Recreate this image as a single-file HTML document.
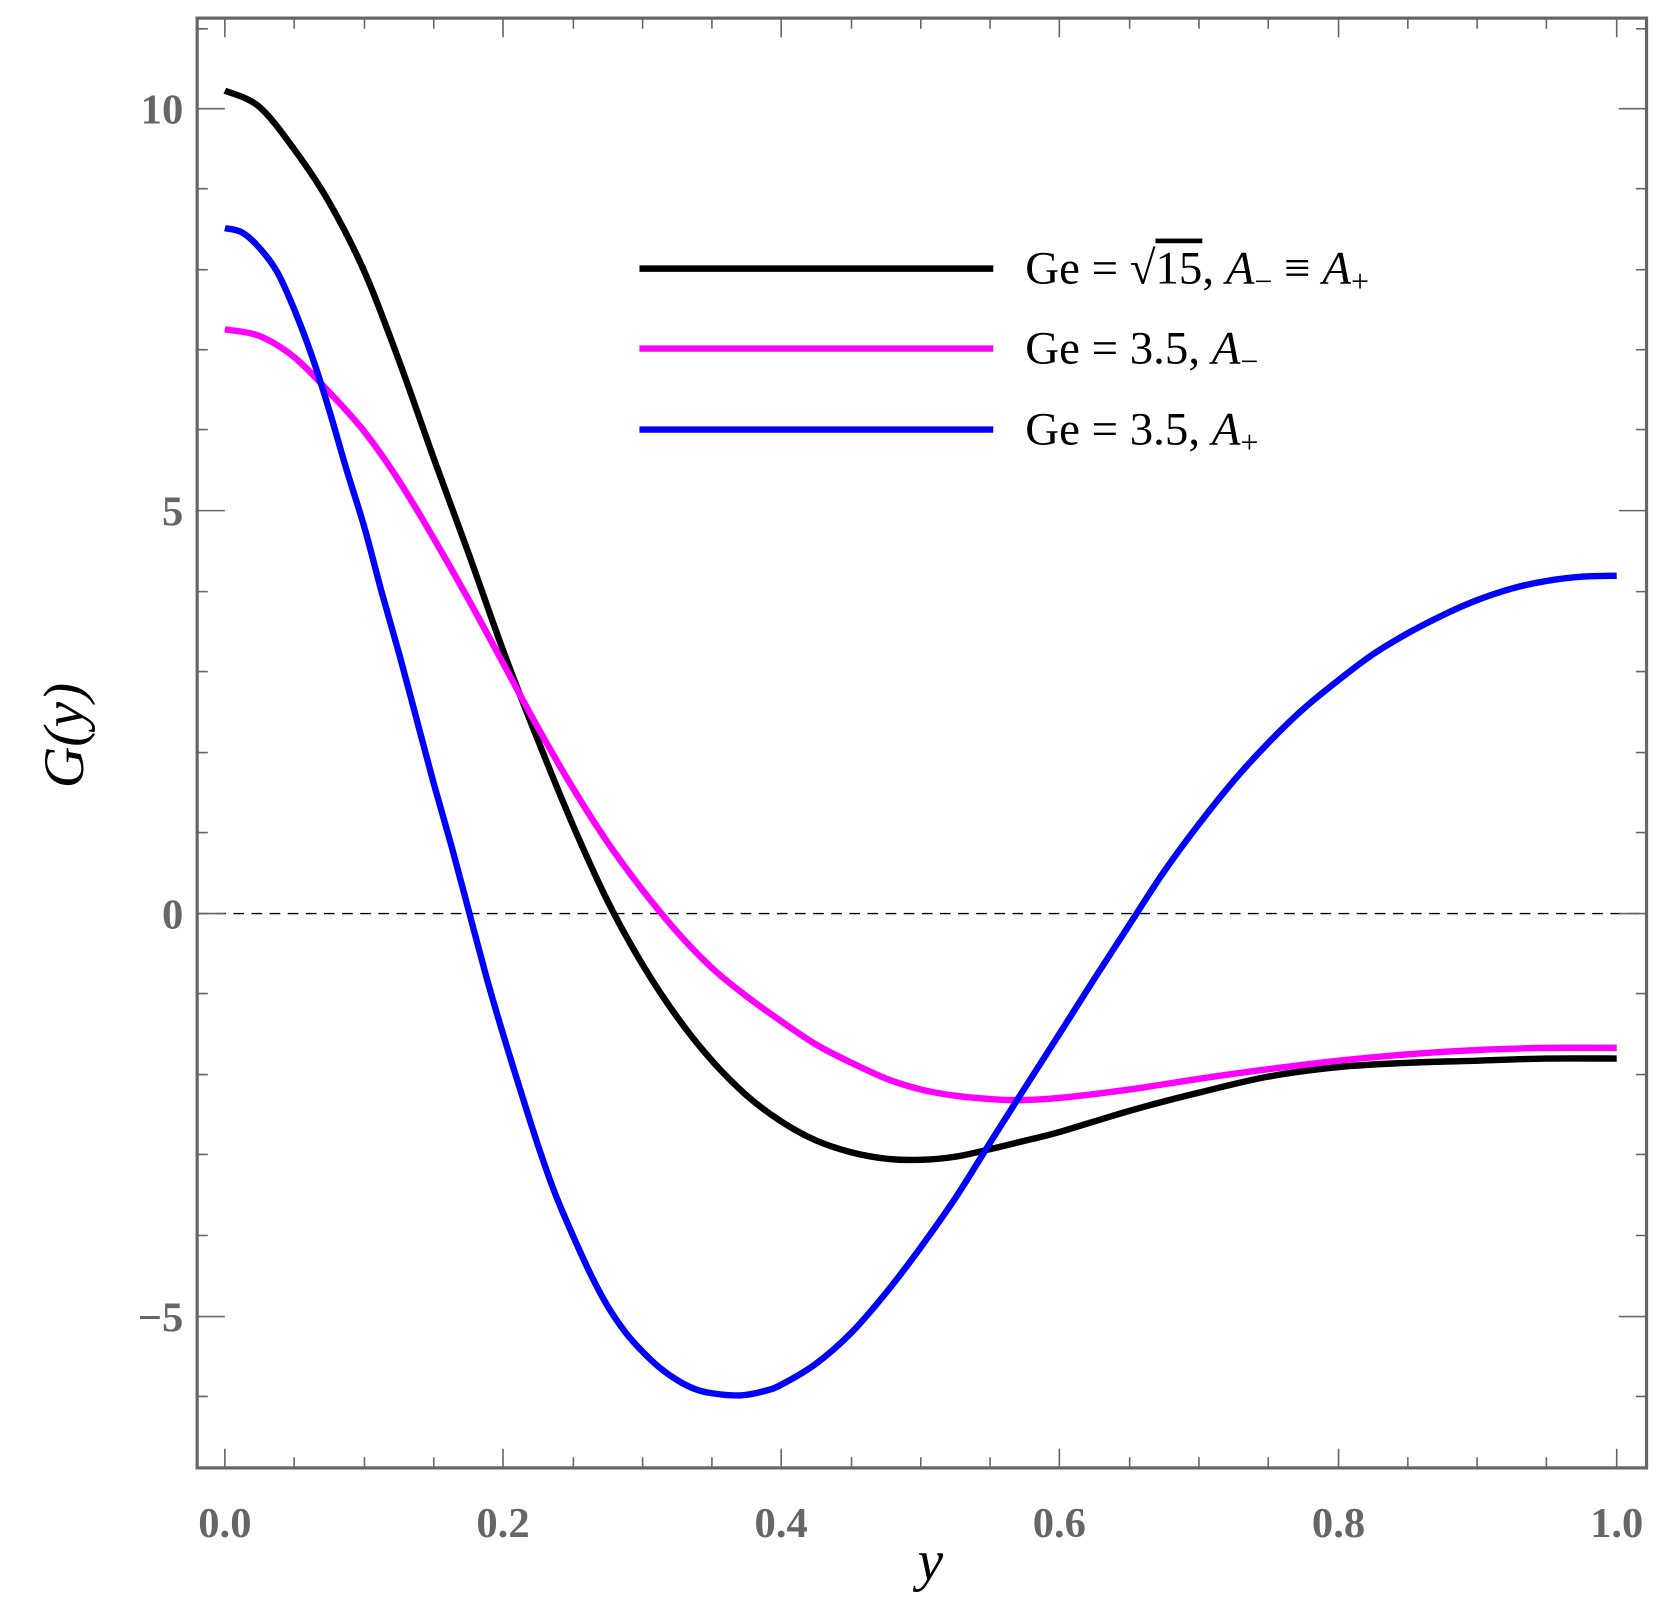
<!DOCTYPE html>
<html><head><meta charset="utf-8"><style>html,body{margin:0;padding:0;background:#fff}svg{display:block}</style></head><body>
<svg width="1670" height="1615" viewBox="0 0 1567 1515" preserveAspectRatio="none" xmlns="http://www.w3.org/2000/svg">
<rect x="185" y="17" width="1360" height="1360" fill="none" stroke="#666" stroke-width="3"/>
<line x1="185" y1="857" x2="1545" y2="857" stroke="#000" stroke-width="1.2" stroke-dasharray="10,7"/>
<g stroke="#666" stroke-width="1.5">
<path d="M211 1377v-18M472 1377v-18M733 1377v-18M994 1377v-18M1256 1377v-18M1517 1377v-18M211 17v18M472 17v18M733 17v18M994 17v18M1256 17v18M1517 17v18"/>
<path d="M276 1377v-10M342 1377v-10M407 1377v-10M538 1377v-10M603 1377v-10M668 1377v-10M799 1377v-10M864 1377v-10M929 1377v-10M1060 1377v-10M1125 1377v-10M1190 1377v-10M1321 1377v-10M1386 1377v-10M1451 1377v-10M276 17v10M342 17v10M407 17v10M538 17v10M603 17v10M668 17v10M799 17v10M864 17v10M929 17v10M1060 17v10M1125 17v10M1190 17v10M1321 17v10M1386 17v10M1451 17v10"/>
<path d="M185 102h26M185 479h26M185 857h26M185 1235h26M1545 102h-26M1545 479h-26M1545 857h-26M1545 1235h-26"/>
<path d="M185 27h10M185 177h10M185 253h10M185 328h10M185 403h10M185 555h10M185 630h10M185 706h10M185 781h10M185 932h10M185 1008h10M185 1083h10M185 1159h10M185 1310h10M1545 27h-10M1545 177h-10M1545 253h-10M1545 328h-10M1545 403h-10M1545 555h-10M1545 630h-10M1545 706h-10M1545 781h-10M1545 932h-10M1545 1008h-10M1545 1083h-10M1545 1159h-10M1545 1310h-10"/>
</g>
<g font-family="Liberation Serif, serif" font-weight="bold" font-size="40" fill="#666">
<text x="172" y="116" text-anchor="end">10</text>
<text x="172" y="493" text-anchor="end">5</text>
<text x="172" y="871" text-anchor="end">0</text>
<text x="172" y="1249" text-anchor="end">−5</text>
<g text-anchor="middle"><text x="211" y="1442">0.0</text><text x="472" y="1442">0.2</text><text x="733" y="1442">0.4</text><text x="994" y="1442">0.6</text><text x="1256" y="1442">0.8</text><text x="1517" y="1442">1.0</text></g>
</g>
<text x="873" y="1482" font-family="Liberation Serif, serif" font-style="italic" font-size="54" text-anchor="middle">y</text>
<text transform="translate(78,690) rotate(-90)" font-family="Liberation Serif, serif" font-style="italic" font-size="54" text-anchor="middle">G(y)</text>
<g fill="none" stroke-width="6" stroke-linejoin="round" stroke-linecap="butt">
<polyline class="sm" stroke="#000" points="211,85 243,100 276,140 309,190 342,255 375,340 407,430 440,520 472,610 505,695 538,775 570,845 603,905 636,955 668,995 701,1028 733,1052 766,1070 799,1081 832,1087 864,1088 897,1085 929,1078 962,1070 994,1062 1060,1042 1125,1025 1190,1010 1256,1001 1321,997 1386,995 1451,993 1517,993"/>
<polyline class="sm" stroke="#f0f" points="211,309 243,315 276,335 309,368 342,405 375,452 407,505 440,563 472,622 505,683 538,740 570,790 603,835 636,875 668,908 701,935 733,958 766,980 799,997 832,1012 864,1022 897,1028 929,1031 957,1032 994,1030 1060,1022 1125,1012 1190,1003 1256,995 1321,989 1386,985 1451,983 1517,983"/>
<polyline class="sm" stroke="#00f" points="211,214 227,218 243,232 260,255 276,290 293,335 309,385 325,440 342,495 358,555 375,615 391,675 407,735 424,795 440,855 456,915 472,970 489,1025 505,1075 521,1120 538,1160 554,1195 570,1225 587,1250 603,1268 619,1283 636,1295 652,1303 668,1307 694,1309 717,1305 733,1299 766,1279 799,1250 832,1212 864,1170 897,1123 929,1072 962,1020 994,970 1027,918 1060,867 1092,818 1125,773 1158,732 1190,697 1223,665 1256,638 1288,614 1321,594 1354,577 1386,563 1419,552 1451,545 1484,541 1517,540"/>
</g>
<g stroke-width="6">
<line x1="600" y1="252" x2="932" y2="252" stroke="#000"/>
<line x1="600" y1="327" x2="932" y2="327" stroke="#f0f"/>
<line x1="600" y1="403" x2="932" y2="403" stroke="#00f"/>
</g>
<g font-family="Liberation Serif, serif" font-size="44" fill="#000">
<text x="962" y="266">Ge = √<tspan text-decoration="overline">15</tspan>,   <tspan font-style="italic">A</tspan><tspan font-size="30" dy="8">−</tspan><tspan dy="-8">  ≡  </tspan><tspan font-style="italic">A</tspan><tspan font-size="30" dy="8">+</tspan></text>
<text x="962" y="341">Ge = 3.5,   <tspan font-style="italic">A</tspan><tspan font-size="30" dy="8">−</tspan></text>
<text x="962" y="417">Ge = 3.5,   <tspan font-style="italic">A</tspan><tspan font-size="30" dy="8">+</tspan></text>
</g>
</svg>
<script>
document.querySelectorAll('polyline.sm').forEach(function(pl){
  var p=pl.getAttribute('points').trim().split(/\s+/).map(function(s){return s.split(',').map(Number);});
  var d='M'+p[0][0]+' '+p[0][1];
  for(var i=0;i<p.length-1;i++){
    var p0=p[i-1]||p[i],p1=p[i],p2=p[i+1],p3=p[i+2]||p2;
    var c1x=p1[0]+(p2[0]-p0[0])/6,c1y=p1[1]+(p2[1]-p0[1])/6;
    var c2x=p2[0]-(p3[0]-p1[0])/6,c2y=p2[1]-(p3[1]-p1[1])/6;
    d+=' C'+c1x.toFixed(1)+' '+c1y.toFixed(1)+' '+c2x.toFixed(1)+' '+c2y.toFixed(1)+' '+p2[0]+' '+p2[1];
  }
  var path=document.createElementNS('http://www.w3.org/2000/svg','path');
  path.setAttribute('d',d);path.setAttribute('stroke',pl.getAttribute('stroke'));
  pl.parentNode.replaceChild(path,pl);
});
</script>
</body></html>
